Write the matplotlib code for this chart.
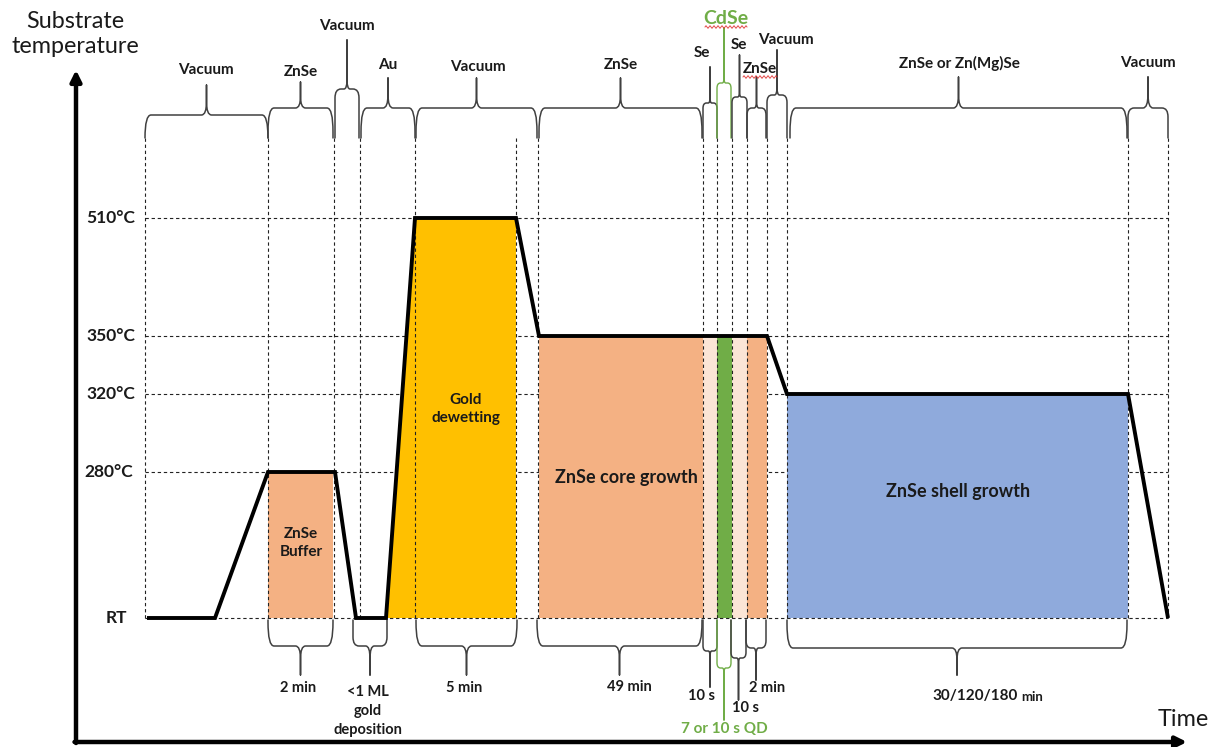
import matplotlib
matplotlib.use('Agg')
import matplotlib.pyplot as plt
from matplotlib.path import Path
from matplotlib.patches import PathPatch, Polygon
import numpy as np

plt.rcParams['font.family'] = ['Lato', 'DejaVu Sans']

# ---------------------------------------------------------
# data (schematic units: x = time axis, y = height above time axis)
# ---------------------------------------------------------
temp_labels = ['RT', '280°C', '320°C', '350°C', '510°C']
temp_levels = [124, 270, 348, 406, 524]
temp_label_x = [51, 57, 59, 59, 59]
lvl = dict(zip(temp_labels, temp_levels))

# temperature profile
prof_x = [71, 139, 192, 259, 280, 310, 339, 440, 463, 691, 711, 1052, 1092]
prof_t = ['RT', 'RT', '280°C', '280°C', 'RT', 'RT', '510°C', '510°C',
          '350°C', '350°C', '320°C', '320°C', 'RT']

# vertical dashed lines (phase boundaries)
bounds = [69, 192, 258, 284, 339, 440, 462, 627, 641, 656, 671, 691, 711, 1052, 1092]
grid_x0, grid_x1 = 69, 1092
grid_top = 604

# filled phases: x0, x1, level, colour
fills = [
    (192, 257, '280°C', '#F4B183'),
    (463, 627, '350°C', '#F4B183'),
    (627, 641, '350°C', '#FBE5D6'),
    (641, 656, '350°C', '#70AD47'),
    (656, 671, '350°C', '#FBE5D6'),
    (671, 691, '350°C', '#F4B183'),
    (711, 1052, '320°C', '#8FAADC'),
]
gold_poly_x = [310, 339, 440, 440]
gold_poly_t = ['RT', '510°C', '510°C', 'RT']

fill_texts = ['ZnSe\nBuffer', 'Gold\ndewetting', 'ZnSe core growth', 'ZnSe shell growth']
fill_text_x = [225, 390, 550, 882]
fill_text_y = [199, 333, 264, 250]
fill_text_size = [11, 11, 13, 13]

# top braces
top_labels = ['Vacuum', 'ZnSe', 'Vacuum', 'Au', 'Vacuum', 'ZnSe', 'Se', 'CdSe',
              'Se', 'ZnSe', 'Vacuum', 'ZnSe or Zn(Mg)Se', 'Vacuum']
top_x0 = [69, 192, 259, 285, 340, 463, 627, 641, 656, 671, 691, 714, 1052]
top_x1 = [192, 257, 283, 339, 461, 626, 641, 655, 671, 690, 711, 1051, 1092]
top_flat = [627, 634, 653, 634, 634, 634, 639, 659, 645, 634, 647, 634, 634]
top_tip = [657, 660, 702, 664, 664, 664, 675, 714, 687, 665, 692, 665, 665]
top_lab_x = [130, 225, 271, 312, 402, 545, 626, 650, 663, 684, 710, 883, 1072]
top_lab_y = [672, 670, 716, 677, 675, 677, 689, 724, 697, 673, 702, 679, 679]
top_end = 604

# bottom braces
bot_labels = ['2 min', '<1 ML\ngold\ndeposition', '5 min', '49 min', '10 s',
              '7 or 10 s QD', '10 s', '2 min', '30/120/180 min']
bot_x0 = [192, 277, 340, 461, 627, 641, 655, 670, 711]
bot_x1 = [257, 311, 441, 626, 641, 655, 670, 690, 1051]
bot_flat = [96, 96, 96, 96, 91, 74, 84, 94, 94]
bot_tip = [67, 67, 67, 67, 55, 22, 42, 62, 67]
bot_lab_x = [222, 292, 388, 553, 626, 648, 669, 691, 942]
bot_lab_y = [54, 57, 54, 55, 46, 13, 34, 54, 46]
bot_end = 122

green_idx_top = [7]
green_idx_bot = [5]
squiggle_under = [(629, 671, 715), (667, 701, 665)]

GREEN = '#70AD47'
BRACE = '#404040'


def brace(ax, x0, x1, y_end, y_flat, y_tip, color, lw=1.1):
    xm = (x0 + x1) / 2.0
    w = x1 - x0
    r = min(6.0, w / 4.0)
    rt = min(5.0, w / 8.0)
    s = 1 if y_tip > y_flat else -1
    c = min(3.0 * rt, abs(y_tip - y_flat) * 0.45)
    ch = min(abs(y_flat - y_end), (4.0 if w > 40 else 1.5) * r)
    verts = [(x0, y_end), (x0, y_flat - s * ch), (x0, y_flat), (x0 + r, y_flat),
             (xm - rt, y_flat),
             (xm, y_flat), (xm, y_flat + s * c),
             (xm, y_tip),
             (xm, y_flat + s * c),
             (xm, y_flat), (xm + rt, y_flat),
             (x1 - r, y_flat),
             (x1, y_flat), (x1, y_flat - s * ch), (x1, y_end)]
    codes = [Path.MOVETO, Path.LINETO, Path.CURVE3, Path.CURVE3,
             Path.LINETO,
             Path.CURVE3, Path.CURVE3,
             Path.LINETO,
             Path.LINETO,
             Path.CURVE3, Path.CURVE3,
             Path.LINETO,
             Path.CURVE3, Path.CURVE3, Path.LINETO]
    ax.add_patch(PathPatch(Path(verts, codes), fill=False, edgecolor=color,
                           lw=lw, capstyle='round', joinstyle='round', zorder=4))


fig = plt.figure(figsize=(12.17, 7.47), dpi=100)
ax = fig.add_axes([0, 0, 1, 1])
ax.set_xlim(-76, 1141)
ax.set_ylim(-5, 742)
ax.axis('off')

# dashed grid
for t in temp_levels:
    ax.plot([grid_x0, grid_x1], [t, t], ls=(0, (3, 2.5)), color='#222222', lw=0.8,
            zorder=3 if t == lvl['RT'] else 1)
for b in bounds:
    ax.plot([b, b], [lvl['RT'], grid_top], ls=(0, (3, 2.5)), color='#222222', lw=0.8, zorder=3)

# fills
for x0, x1, t, col in fills:
    ax.fill_between([x0, x1], lvl['RT'], lvl[t], color=col, lw=0, zorder=2)
ax.add_patch(Polygon(list(zip(gold_poly_x, [lvl[t] for t in gold_poly_t])),
                     closed=True, facecolor='#FFC000', edgecolor='none', zorder=2))

# profile
ax.plot(prof_x, [lvl[t] for t in prof_t], color='black', lw=2.8,
        solid_joinstyle='miter', solid_capstyle='butt', zorder=5)

for txt, x, y, fs in zip(fill_texts, fill_text_x, fill_text_y, fill_text_size):
    ax.text(x, y, txt, ha='center', va='center', fontsize=fs, fontweight='bold',
            color='#1a1a1a', linespacing=1.35, zorder=6)

# temperature labels
for lab, t, x in zip(temp_labels, temp_levels, temp_label_x):
    ax.text(x, t, lab, ha='right', va='center', fontsize=12.5, fontweight='bold',
            color='#1a1a1a')

# braces on top
for i, lab in enumerate(top_labels):
    green = i in green_idx_top
    brace(ax, top_x0[i], top_x1[i], top_end, top_flat[i], top_tip[i],
          GREEN if green else BRACE, lw=1.0 if green else 1.1)
    ax.text(top_lab_x[i], top_lab_y[i], lab, ha='center', va='center',
            fontsize=14 if green else 11, fontweight='bold',
            color=GREEN if green else '#1a1a1a')

# braces below
for i, lab in enumerate(bot_labels):
    green = i in green_idx_bot
    tcol = GREEN if green else '#1a1a1a'
    brace(ax, bot_x0[i], bot_x1[i], bot_end, bot_flat[i], bot_tip[i],
          GREEN if green else BRACE, lw=1.0 if green else 1.1)
    if lab.startswith('30/120/180'):
        ax.text(bot_lab_x[i], bot_lab_y[i], '30/120/180', ha='right', va='center',
                fontsize=11, fontweight='bold', color=tcol)
        ax.text(bot_lab_x[i] + 3, bot_lab_y[i] - 1, 'min', ha='left', va='center',
                fontsize=9.5, fontweight='bold', color=tcol)
    elif '\n' in lab:
        ax.text(bot_lab_x[i], bot_lab_y[i], lab, ha='center', va='top',
                fontsize=10.5, fontweight='bold', color=tcol, linespacing=1.45)
    else:
        ax.text(bot_lab_x[i], bot_lab_y[i], lab, ha='center', va='center',
                fontsize=11 if green else 10.5, fontweight='bold', color=tcol)

# spell-check squiggles
for x0, x1, y in squiggle_under:
    xs = np.linspace(x0, x1, 120)
    ax.plot(xs, y + 1.2 * np.sin((xs - x0) * 2 * np.pi / 4.0), color='#E03030', lw=0.6, zorder=7)

# axes arrows
ax.annotate('', xy=(0, 672), xytext=(0, -1),
            arrowprops=dict(arrowstyle='-|>', lw=3.2, color='black', mutation_scale=16,
                            shrinkA=0, shrinkB=0))
ax.annotate('', xy=(1111, 0), xytext=(-1.5, 0),
            arrowprops=dict(arrowstyle='-|>', lw=3.2, color='black', mutation_scale=16,
                            shrinkA=0, shrinkB=0))

ax.text(-1, 708, 'Substrate\ntemperature', ha='center', va='center', fontsize=16.8,
        color='#1a1a1a', linespacing=1.2)
ax.text(1107, 22, 'Time', ha='center', va='center', fontsize=16.8, color='#1a1a1a')

plt.savefig('out.png', dpi=100)
